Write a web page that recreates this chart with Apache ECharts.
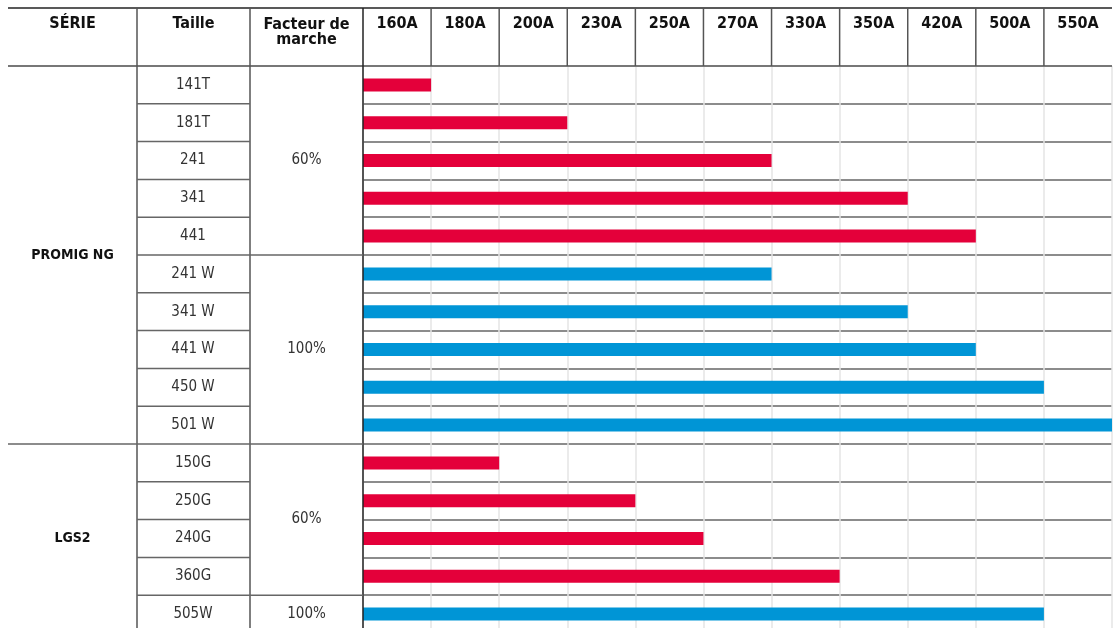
<!DOCTYPE html>
<html>
<head>
<meta charset="utf-8">
<title>PROMIG NG / LGS2</title>
<script src="https://cdn.jsdelivr.net/npm/echarts@6/dist/echarts.min.js"></script>
<style>
  html, body { margin: 0; padding: 0; background: #fff; }
  #chart { width: 1119px; height: 628px; }
</style>
</head>
<body>
<div id="chart"></div>
<script>
// colonnes d'intensité (en-tête)
const courants = ['160A', '180A', '200A', '230A', '250A', '270A', '330A', '350A', '420A', '500A', '550A'];

// lignes du tableau
const tailles = ['141T', '181T', '241', '341', '441', '241 W', '341 W', '441 W', '450 W', '501 W',
                 '150G', '250G', '240G', '360G', '505W'];
// courant max atteint par chaque taille
const courantMax = [160, 200, 270, 350, 420, 270, 350, 420, 500, 550, 180, 230, 250, 330, 500];

// cellules fusionnées
const series = ['PROMIG NG', 'LGS2'];
const seriesSpan = [10, 5];
const facteurs = ['60%', '100%', '60%', '100%'];
const facteursSpan = [5, 5, 4, 1];

const couleurs = { '60%': '#e4003a', '100%': '#0095d6' };
const FONT = "'Liberation Sans Narrow','DejaVu Sans Condensed',sans-serif";

// facteur de marche ligne par ligne
const facteurParLigne = [];
facteurs.forEach((f, i) => { for (let k = 0; k < facteursSpan[i]; k++) facteurParLigne.push(f); });

const barData = courantMax.map((a, i) => ({
    value: courants.indexOf(a + 'A') + 1,
    itemStyle: { color: couleurs[facteurParLigne[i]] }
}));

// bords des colonnes de gauche
const colX = [8, 137, 250, 363];
const TOP = 8, HEAD = 66;

const chart = echarts.init(document.getElementById('chart'));
chart.setOption({
    animation: false,
    grid: { left: 363, right: 7, top: HEAD, height: 567, outerBoundsMode: 'none' },
    xAxis: [{
        type: 'value', min: 0, max: courants.length, interval: 1,
        axisLabel: { show: false }, axisLine: { show: false }, axisTick: { show: false },
        splitLine: { lineStyle: { color: '#e4e4e4', width: 1.5 } }
    }, {
        type: 'category', position: 'top', data: courants,
        axisLine: { show: false }, axisTick: { show: false },
        axisLabel: { margin: 42, verticalAlign: 'middle', color: '#111', fontSize: 16,
                     fontWeight: 'bold', fontFamily: FONT }
    }],
    yAxis: {
        type: 'category', inverse: true, data: tailles,
        axisLine: { show: false }, axisTick: { show: false },
        axisLabel: { margin: 170, align: 'center', color: '#333', fontSize: 15, fontFamily: FONT },
        splitLine: { show: true, lineStyle: { color: '#666', width: 1.5 } }
    },
    series: [{
        type: 'bar', xAxisIndex: 0, data: barData, barWidth: 13
    }]
});

// reste du tableau (en-têtes, cellules fusionnées, traits)
function drawTable() {
    const y0 = chart.convertToPixel({ yAxisIndex: 0 }, 0);
    const band = chart.convertToPixel({ yAxisIndex: 0 }, 1) - y0;
    const rowTop = i => y0 - band / 2 + i * band;
    const bottom = rowTop(tailles.length);
    const right = chart.convertToPixel({ xAxisIndex: 0 }, courants.length);
    const els = [];
    const line = (x1, y1, x2, y2, color, w) => els.push({
        type: 'line', z: 100, silent: true,
        shape: { x1, y1, x2, y2 }, style: { stroke: color, lineWidth: w }
    });
    const text = (str, x, y, bold, size) => els.push({
        type: 'text', z: 100, silent: true, x, y,
        style: { text: str, fill: bold ? '#111' : '#333', font: (bold ? 'bold ' : '') + size + 'px ' + FONT,
                 align: 'center', verticalAlign: 'middle', lineHeight: 15 }
    });

    // traits horizontaux de l'en-tête
    line(colX[0], TOP, right, TOP, '#222', 1.5);
    line(colX[0], HEAD, right, HEAD, '#777', 2);
    // traits verticaux de l'en-tête
    for (let k = 1; k < courants.length; k++) {
        const x = chart.convertToPixel({ xAxisIndex: 0 }, k);
        line(x, TOP, x, HEAD, '#555', 1.5);
    }
    // traits verticaux des colonnes de gauche
    line(colX[1], TOP, colX[1], bottom, '#555', 1.5);
    line(colX[2], TOP, colX[2], bottom, '#555', 1.5);
    line(colX[3], TOP, colX[3], bottom, '#222', 1.5);

    // titres des colonnes de gauche
    text('SÉRIE', (colX[0] + colX[1]) / 2, 24, true, 16);
    text('Taille', (colX[1] + colX[2]) / 2, 24, true, 16);
    text('Facteur de\nmarche', (colX[2] + colX[3]) / 2, 32, true, 16);

    // colonne Taille : un trait par ligne
    const serieBreaks = [], facteurBreaks = [];
    seriesSpan.reduce((s, n) => { serieBreaks.push(s + n); return s + n; }, 0);
    facteursSpan.reduce((s, n) => { facteurBreaks.push(s + n); return s + n; }, 0);
    for (let k = 1; k < tailles.length; k++) {
        const y = rowTop(k);
        line(colX[1], y, colX[2], y, '#666', 1.5);
        if (facteurBreaks.includes(k)) line(colX[2], y, colX[3], y, '#666', 1.5);
        if (serieBreaks.includes(k)) line(colX[0], y, colX[1], y, '#666', 1.5);
    }

    // cellules fusionnées
    let s = 0;
    series.forEach((name, i) => {
        text(name, (colX[0] + colX[1]) / 2, (rowTop(s) + rowTop(s + seriesSpan[i])) / 2, true, 14);
        s += seriesSpan[i];
    });
    s = 0;
    facteurs.forEach((f, i) => {
        text(f, (colX[2] + colX[3]) / 2, (rowTop(s) + rowTop(s + facteursSpan[i])) / 2, false, 15);
        s += facteursSpan[i];
    });

    chart.setOption({ graphic: els });
}
drawTable();
</script>
</body>
</html>
